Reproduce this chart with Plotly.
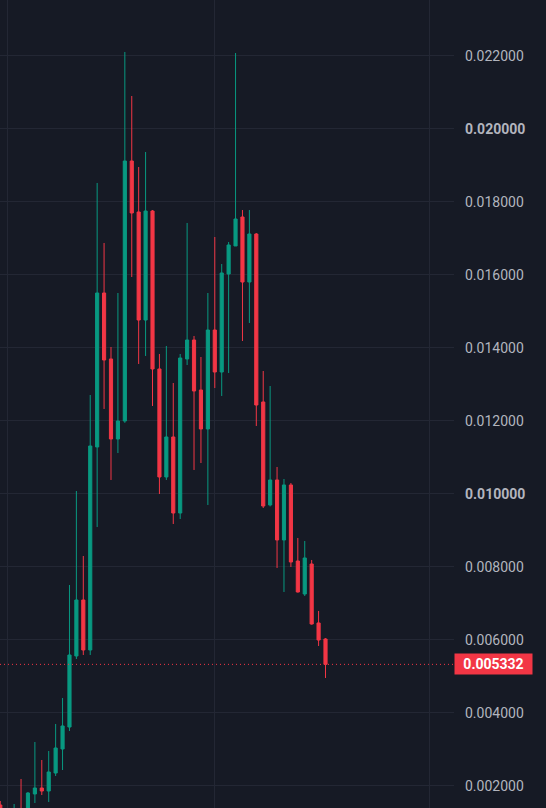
import plotly.graph_objects as go

# ---- data (daily candles, oldest first) ----
idx = list(range(48))
open_ = [0.001479, 0.00125, 0.00122, 0.00136, 0.00124, 0.001781, 0.001945, 0.001863,
         0.002356, 0.003014, 0.003616, 0.005562, 0.007096, 0.005726, 0.011288, 0.015507,
         0.013699, 0.011507, 0.012000, 0.019123, 0.017726, 0.014767, 0.017753, 0.013425,
         0.010466, 0.011562, 0.009479, 0.013699, 0.014219, 0.012849, 0.011781, 0.014493,
         0.013342, 0.016027, 0.016795, 0.017589, 0.015808, 0.017123, 0.012521, 0.009699,
         0.010384, 0.008740, 0.010247, 0.008164, 0.007260, 0.008082, 0.006466, 0.006027]
high = [0.001589, 0.00137, 0.001507, 0.002192, 0.001836, 0.003205, 0.002712, 0.002959,
        0.003699, 0.004411, 0.007507, 0.010082, 0.008301, 0.012712, 0.018521, 0.016877,
        0.014027, 0.015507, 0.022110, 0.020904, 0.018959, 0.019370, 0.017780, 0.013836,
        0.014055, 0.013041, 0.013836, 0.017425, 0.014329, 0.013753, 0.015507, 0.017041,
        0.016301, 0.016904, 0.022082, 0.017780, 0.017780, 0.017150, 0.013370, 0.012959,
        0.010740, 0.010411, 0.010301, 0.008795, 0.008712, 0.008192, 0.006795, 0.006050]
low = [0.00118, 0.00120, 0.00118, 0.00118, 0.00120, 0.001534, 0.001753, 0.001562,
       0.002274, 0.002438, 0.003507, 0.005479, 0.005589, 0.005589, 0.009096, 0.012329,
       0.010384, 0.011123, 0.011950, 0.015945, 0.013562, 0.013781, 0.012411, 0.010000,
       0.010384, 0.009178, 0.009315, 0.013534, 0.010658, 0.010849, 0.009699, 0.012904,
       0.012685, 0.013315, 0.016795, 0.014192, 0.014685, 0.011863, 0.009616, 0.009660,
       0.007973, 0.007315, 0.008000, 0.007300, 0.007205, 0.006420, 0.005836, 0.004959]
close = [0.00125, 0.00133, 0.00134, 0.00124, 0.001808, 0.001945, 0.001863, 0.002384,
         0.003041, 0.003644, 0.005589, 0.007096, 0.005726, 0.011315, 0.015507, 0.013671,
         0.011507, 0.012000, 0.019123, 0.017699, 0.014767, 0.017753, 0.013425, 0.010466,
         0.011562, 0.009479, 0.013726, 0.014219, 0.012822, 0.011781, 0.014493, 0.013342,
         0.016055, 0.016822, 0.017534, 0.015808, 0.017123, 0.012438, 0.009671, 0.010384,
         0.008740, 0.010247, 0.008137, 0.007315, 0.008247, 0.006438, 0.006000, 0.005332]

price_ticks = [0.002, 0.004, 0.006, 0.008, 0.010, 0.012, 0.014, 0.016, 0.018, 0.020, 0.022]
price_labels = ["0.002000", "0.004000", "0.006000", "0.008000", "<b>0.010000</b>",
                "0.012000", "0.014000", "0.016000", "0.018000", "<b>0.020000</b>", "0.022000"]
month_starts = [1, 31, 62]

GREEN = "#089981"
RED = "#F23645"
BG = "#161A25"
GRID = "#232734"

fig = go.Figure()
fig.add_trace(go.Candlestick(
    x=idx, open=open_, high=high, low=low, close=close,
    increasing=dict(line=dict(color=GREEN, width=1), fillcolor=GREEN),
    decreasing=dict(line=dict(color=RED, width=1), fillcolor=RED),
    whiskerwidth=0, showlegend=False, hoverinfo="skip",
))

last = close[-1]
fig.add_hline(y=last, line=dict(color=RED, width=1, dash="1px,3px"))
fig.add_annotation(
    xref="paper", x=1.0, xanchor="left", yref="y", y=last, yanchor="middle",
    text=f"<b>{last:.6f}</b>", showarrow=False, bgcolor=RED,
    font=dict(color="#FFFFFF", size=14, family="Roboto"),
    width=73, height=16, borderpad=2, align="center",
)

fig.update_layout(
    width=546, height=808,
    margin=dict(l=0, r=92, t=0, b=0),
    paper_bgcolor=BG, plot_bgcolor=BG,
    boxgap=0.35,
    font=dict(family="Roboto", size=14, color="#B2B5BE"),
    xaxis=dict(range=[-0.04, 65.57], tickvals=month_starts, showticklabels=False,
               showgrid=True, gridcolor=GRID, gridwidth=1, zeroline=False,
               rangeslider=dict(visible=False), fixedrange=True),
    yaxis=dict(side="right", range=[0.001397, 0.023534], tickvals=price_ticks,
               ticktext=price_labels, showgrid=True, gridcolor=GRID, gridwidth=1,
               zeroline=False, ticks="", ticklabelstandoff=10,
               tickfont=dict(family="Roboto", size=14, color="#B2B5BE")),
)

fig.write_html("out.html")
